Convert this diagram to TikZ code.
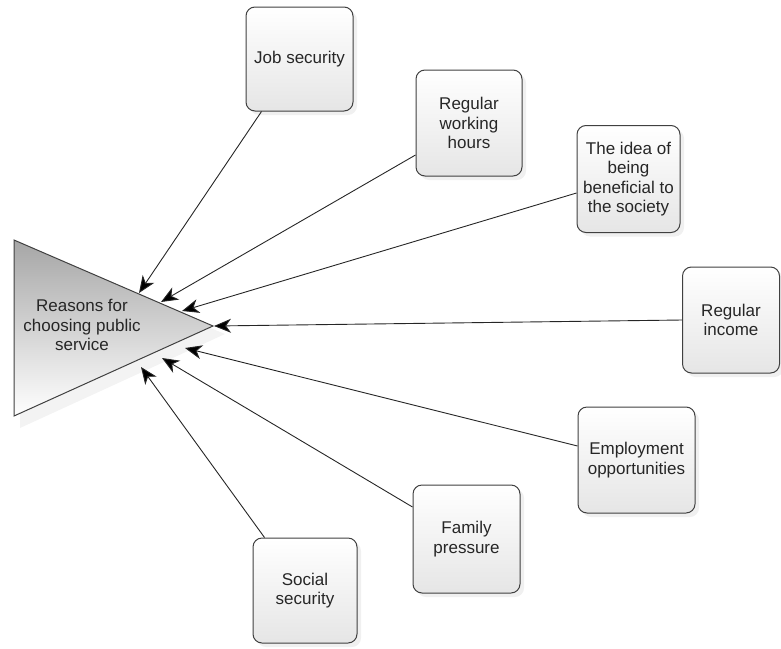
\documentclass[tikz,border=0pt]{standalone}
\usepackage{fontspec}
\setmainfont{Liberation Sans}
\usetikzlibrary{shadows,arrows.meta}
\begin{document}
\begin{tikzpicture}[x=1pt,y=-1pt,
  reason/.style={draw=black!75, line width=1pt, rounded corners=9pt,
    top color=white, bottom color=black!10, align=center,
    font=\fontsize{17}{19.5}\selectfont, text=black!85,
    drop shadow={shadow xshift=4pt, shadow yshift=-4pt, opacity=0.12}},
  conn/.style={draw=black!85, line width=0.9pt, -{Stealth[length=17pt,width=14pt,inset=5pt,fill=black]}}]
\useasboundingbox (0,0) rectangle (781,648);
% central triangle
\coordinate (tA) at (14,240);
\coordinate (tB) at (14,416);
\coordinate (tC) at (213,326);
\fill[black!8, opacity=0.6] (20,250) -- (20,428) -- (225,334) -- cycle;
\shade[top color=black!35, bottom color=white, draw=black!75, line width=1pt] (tA) -- (tC) -- (tB) -- cycle;
\node[align=center, font=\fontsize{17}{19.5}\selectfont, text=black!85] (center) at (82,325) {Reasons for\\choosing public\\service};
% reason boxes
\node[reason, minimum width=107pt, minimum height=104pt] (job) at (299.5,59) {Job security};
\node[reason, minimum width=106pt, minimum height=106pt] (hours) at (469,123) {Regular\\working\\hours};
\node[reason, minimum width=103pt, minimum height=107pt] (idea) at (628.5,179) {The idea of\\being\\beneficial to\\the society};
\node[reason, minimum width=97pt, minimum height=106pt] (income) at (731,320) {Regular\\income};
\node[reason, minimum width=117pt, minimum height=106pt] (employ) at (636.5,460) {Employment\\opportunities};
\node[reason, minimum width=107pt, minimum height=108pt] (family) at (466.5,539) {Family\\pressure};
\node[reason, minimum width=104pt, minimum height=105pt] (social) at (305,590.5) {Social\\security};
% arrow end points on the triangle
\coordinate (pJob) at (139,293);
\coordinate (pHours) at (161,302);
\coordinate (pIdea) at (182,311);
\coordinate (pIncome) at (214,326);
\coordinate (pEmploy) at (185,348);
\coordinate (pFamily) at (162,358);
\coordinate (pSocial) at (141,367);
% connectors
\draw[conn] (job.south west) ++(16,0) coordinate (sJob) -- (pJob);
\draw[conn] (hours.west) ++(0,32) coordinate (sHours) -- (pHours);
\draw[conn] (idea.west) ++(0,14) coordinate (sIdea) -- (pIdea);
\draw[conn] (income.west) -- (pIncome);
\draw[conn] (employ.west) ++(0,-14) coordinate (sEmploy) -- (pEmploy);
\draw[conn] (family.west) ++(0,-32) coordinate (sFamily) -- (pFamily);
\draw[conn] (social.north west) ++(12,0) coordinate (sSocial) -- (pSocial);
\end{tikzpicture}
\end{document}
